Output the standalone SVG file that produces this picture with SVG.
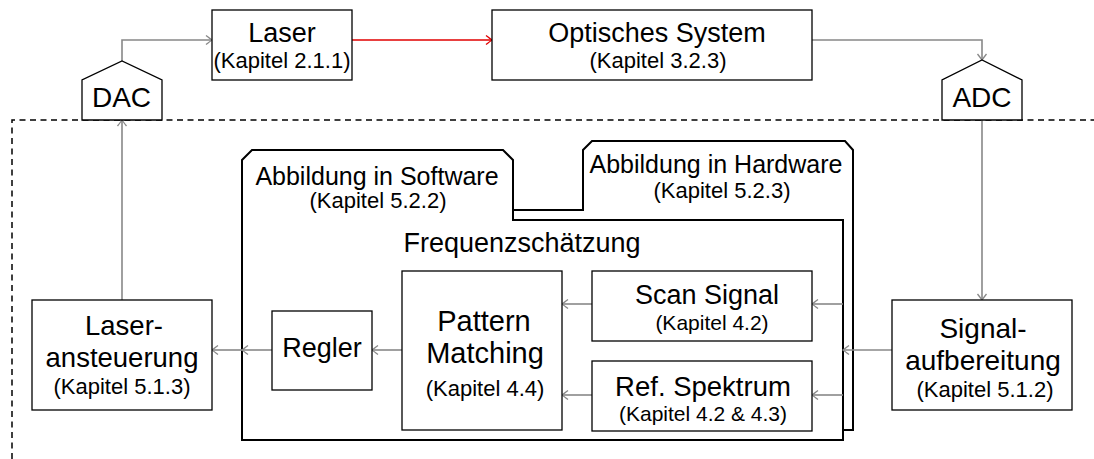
<svg xmlns="http://www.w3.org/2000/svg" width="1094" height="459" viewBox="0 0 1094 459">
<style>
text{font-family:"Liberation Sans",Arial,sans-serif;fill:#000;text-anchor:middle}
.big{font-size:27px}
.kap{font-size:22px}
.box{fill:#fff;stroke:#000;stroke-width:1.3}
.frame{fill:#fff;stroke:#000;stroke-width:2;stroke-linejoin:miter}
.conn{fill:none;stroke:#888;stroke-width:1.6}
.red{fill:none;stroke:#e00000;stroke-width:1.6}
.dash{fill:none;stroke:#000;stroke-width:1.5;stroke-dasharray:6 4.5}
</style>
<defs>
<marker id="ah" markerUnits="userSpaceOnUse" markerWidth="12" markerHeight="12" viewBox="-8 -6 10 12" refX="0" refY="0" orient="auto">
<path d="M-6,-4.5 Q-1.5,-1 0,0 Q-1.5,1 -6,4.5" fill="none" stroke="#888" stroke-width="1.3"/>
</marker>
<marker id="ahr" markerUnits="userSpaceOnUse" markerWidth="12" markerHeight="12" viewBox="-8 -6 10 12" refX="0" refY="0" orient="auto">
<path d="M-6,-4.5 Q-1.5,-1 0,0 Q-1.5,1 -6,4.5" fill="none" stroke="#e00000" stroke-width="1.3"/>
</marker>
</defs>
<rect width="1094" height="459" fill="#fff"/>

<g id="boundary">
<path class="dash" d="M12,459 V120 H1094"/>
</g>

<g id="hardware">
<path class="frame" d="M252,210 H583 V150 L592,141 H845 L853,150 V430 H252 Z"/>
<text x="716" y="173" style="font-size:25px">Abbildung in Hardware</text>
<text class="kap" x="722" y="198">(Kapitel 5.2.3)</text>
</g>

<g id="software">
<path class="frame" d="M242,160 L252,150 H503 L513,160 V220 H843 V440 H242 Z"/>
<text x="377" y="185" style="font-size:25px">Abbildung in Software</text>
<text class="kap" x="378" y="208">(Kapitel 5.2.2)</text>
<text x="522" y="252" style="font-size:27px">Frequenzschätzung</text>
</g>

<g id="connectors">
<path class="conn" d="M122,61 V40 H212" marker-end="url(#ah)"/>
<path class="red" d="M352,40 H492" marker-end="url(#ahr)"/>
<path class="conn" d="M812,40 H982 V60" marker-end="url(#ah)"/>
<path class="conn" d="M982,120 V300" marker-end="url(#ah)"/>
<path class="conn" d="M892,350 H843" marker-end="url(#ah)"/>
<path class="conn" d="M843,304 H812" marker-end="url(#ah)"/>
<path class="conn" d="M843,395 H812" marker-end="url(#ah)"/>
<path class="conn" d="M592,304 H562" marker-end="url(#ah)"/>
<path class="conn" d="M592,395 H562" marker-end="url(#ah)"/>
<path class="conn" d="M402,350 H372" marker-end="url(#ah)"/>
<path class="conn" d="M272,350 H242" marker-end="url(#ah)"/>
<path class="conn" d="M242,350 H212" marker-end="url(#ah)"/>
<path class="conn" d="M122,300 V120" marker-end="url(#ah)"/>
</g>

<g id="laser">
<rect class="box" x="212" y="10" width="140" height="70"/>
<text class="big" x="282" y="42">Laser</text>
<text class="kap" x="282" y="68">(Kapitel 2.1.1)</text>
</g>

<g id="optik">
<rect class="box" x="492" y="10" width="320" height="70"/>
<text class="big" x="657" y="42">Optisches System</text>
<text class="kap" x="658" y="68">(Kapitel 3.2.3)</text>
</g>

<g id="dac">
<path class="box" d="M82,120 V80 L122,61 L162,80 V120 Z"/>
<text x="121.5" y="107" style="font-size:28px">DAC</text>
</g>

<g id="adc">
<path class="box" d="M942,120 V80 L982,60 L1022,80 V120 Z"/>
<text x="982" y="107" style="font-size:28px">ADC</text>
</g>

<g id="laseransteuerung">
<rect class="box" x="32" y="300" width="180" height="110"/>
<text x="124" y="335" style="font-size:27.5px">Laser-</text>
<text x="122" y="367" style="font-size:27.5px">ansteuerung</text>
<text class="kap" x="122" y="394">(Kapitel 5.1.3)</text>
</g>

<g id="signalaufbereitung">
<rect class="box" x="892" y="300" width="180" height="110"/>
<text x="983" y="338" style="font-size:28px">Signal-</text>
<text x="983" y="370" style="font-size:28px">aufbereitung</text>
<text class="kap" x="985" y="397">(Kapitel 5.1.2)</text>
</g>

<g id="regler">
<rect class="box" x="272" y="311" width="100" height="79"/>
<text x="322" y="357" style="font-size:27px">Regler</text>
</g>

<g id="pattern">
<rect class="box" x="402" y="271" width="160" height="159"/>
<text x="484" y="331" style="font-size:29px">Pattern</text>
<text x="485" y="363" style="font-size:29px">Matching</text>
<text class="kap" x="485" y="396">(Kapitel 4.4)</text>
</g>

<g id="scan">
<rect class="box" x="592" y="271" width="220" height="70"/>
<text x="707" y="304" style="font-size:27px">Scan Signal</text>
<text x="712" y="329.5" style="font-size:21px">(Kapitel 4.2)</text>
</g>

<g id="refspektrum">
<rect class="box" x="592" y="361" width="220" height="70"/>
<text x="703" y="395.5" style="font-size:27.5px">Ref. Spektrum</text>
<text x="703" y="421" style="font-size:21px">(Kapitel 4.2 &amp; 4.3)</text>
</g>
</svg>
